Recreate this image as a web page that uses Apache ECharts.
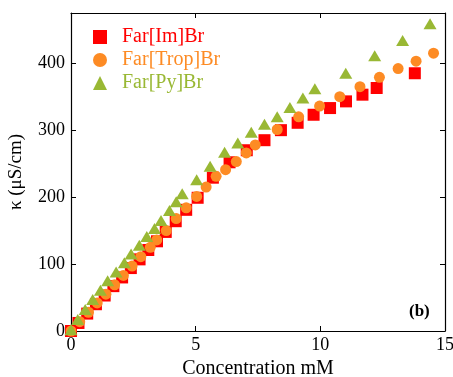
<!DOCTYPE html>
<html>
<head>
<meta charset="utf-8">
<script src="https://cdn.jsdelivr.net/npm/echarts@6/dist/echarts.min.js"></script>
<style>
  html, body { margin: 0; padding: 0; background: #fff; }
  #chart { width: 453px; height: 377px; }
</style>
</head>
<body>
<div id="chart"></div>
<script>
// Far[Im]Br (squares)
const imConc = [0, 0.3, 0.65, 1.0, 1.35, 1.7, 2.05, 2.4, 2.75, 3.1, 3.45, 3.8, 4.2, 4.62, 5.08, 5.69, 6.36, 7.05, 7.76, 8.42, 9.09, 9.73, 10.39, 11.03, 11.69, 12.26, 13.79];
const imKappa = [0, 12, 26, 40, 53, 67, 80, 94, 107, 121, 134, 148, 164, 181, 199, 229, 252, 270, 285, 300, 311, 323, 333, 343, 353, 363, 385];
// Far[Trop]Br (circles)
const tropConc = [0, 0.35, 0.7, 1.05, 1.4, 1.75, 2.1, 2.45, 2.8, 3.18, 3.44, 3.82, 4.22, 4.62, 5.04, 5.42, 5.82, 6.2, 6.63, 7.03, 7.39, 8.27, 9.13, 9.97, 10.78, 11.59, 12.37, 13.12, 13.84, 14.54];
const tropKappa = [0, 14, 28, 42, 55, 69, 83, 97, 111, 125, 136, 150, 168, 184, 201, 215, 231, 241, 253, 266, 278, 301, 320, 336, 350, 365, 379, 392, 403, 415];
// Far[Py]Br (triangles)
const pyConc = [0, 0.27, 0.57, 0.87, 1.18, 1.47, 1.81, 2.14, 2.41, 2.74, 3.04, 3.35, 3.61, 3.95, 4.22, 4.46, 5.04, 5.58, 6.16, 6.69, 7.23, 7.76, 8.27, 8.78, 9.3, 9.78, 11.02, 12.18, 13.3, 14.4];
const pyKappa = [2, 17, 32, 47, 61, 75, 88, 102, 115, 128, 141, 153, 165, 180, 193, 205, 226, 246, 267, 281, 297, 309, 320, 334, 348, 362, 385, 411, 434, 459];

const names = ["Far[Im]Br", "Far[Trop]Br", "Far[Py]Br"];
const colors = ["#ff0000", "#fd8b24", "#99b834"];

const pairs = (xs, ys) => xs.map((x, i) => [x, ys[i]]);
const font = '"Liberation Serif", "DejaVu Serif", serif';

const chart = echarts.init(document.getElementById("chart"), null, { renderer: "canvas" });

const axisCommon = {
  axisLine: { show: true, onZero: false, lineStyle: { color: "#000", width: 1.2 } },
  axisTick: { show: true, inside: true, length: 5, lineStyle: { color: "#000" } },
  splitLine: { show: false },
};

chart.setOption({
  backgroundColor: "#fff",
  animation: false,
  textStyle: { fontFamily: font },
  title: {
    text: "(b)",
    left: 404,
    top: 298,
    textStyle: { fontFamily: font, fontSize: 17, fontWeight: "bold", color: "#000" },
  },
  legend: {
    orient: "vertical",
    left: 88,
    top: 22,
    itemGap: 3,
    itemWidth: 14,
    itemHeight: 14,
    textStyle: { fontFamily: font, fontSize: 20, padding: [0, 0, 0, 10] },
    data: names.map((n, i) => ({ name: n, textStyle: { color: colors[i] } })),
  },
  grid: { left: 71, right: 8, top: 13, bottom: 46, containLabel: false, outerBoundsMode: "none" },
  xAxis: [
    {
      ...axisCommon,
      type: "value",
      min: 0,
      max: 15,
      interval: 5,
      name: "Concentration mM",
      nameLocation: "middle",
      nameGap: 27,
      nameTextStyle: { fontFamily: font, fontSize: 20, color: "#000" },
      axisLabel: { fontFamily: font, fontSize: 18, color: "#000", margin: 5 },
    },
    {
      ...axisCommon,
      type: "value",
      position: "top",
      min: 0,
      max: 15,
      interval: 5,
      axisLabel: { show: false },
    },
  ],
  yAxis: [
    {
      ...axisCommon,
      type: "value",
      min: 0,
      max: 475,
      interval: 100,
      name: "κ (μS/cm)",
      nameLocation: "middle",
      nameGap: 45,
      nameTextStyle: { fontFamily: font, fontSize: 19, color: "#000" },
      axisLabel: { fontFamily: font, fontSize: 18, color: "#000", margin: 6, showMaxLabel: false },
    },
    {
      ...axisCommon,
      type: "value",
      position: "right",
      min: 0,
      max: 475,
      interval: 100,
      axisLabel: { show: false },
    },
  ],
  series: [
    {
      name: names[0],
      type: "scatter",
      symbol: "rect",
      symbolSize: 12,
      clip: false,
      itemStyle: { color: colors[0], opacity: 1 },
      data: pairs(imConc, imKappa),
    },
    {
      name: names[1],
      type: "scatter",
      symbol: "circle",
      symbolSize: 11,
      clip: false,
      itemStyle: { color: colors[1], opacity: 1 },
      data: pairs(tropConc, tropKappa),
    },
    {
      name: names[2],
      type: "scatter",
      symbol: "triangle",
      symbolSize: [13, 11],
      clip: false,
      itemStyle: { color: colors[2], opacity: 1 },
      data: pairs(pyConc, pyKappa),
    },
  ],
});
</script>
</body>
</html>
